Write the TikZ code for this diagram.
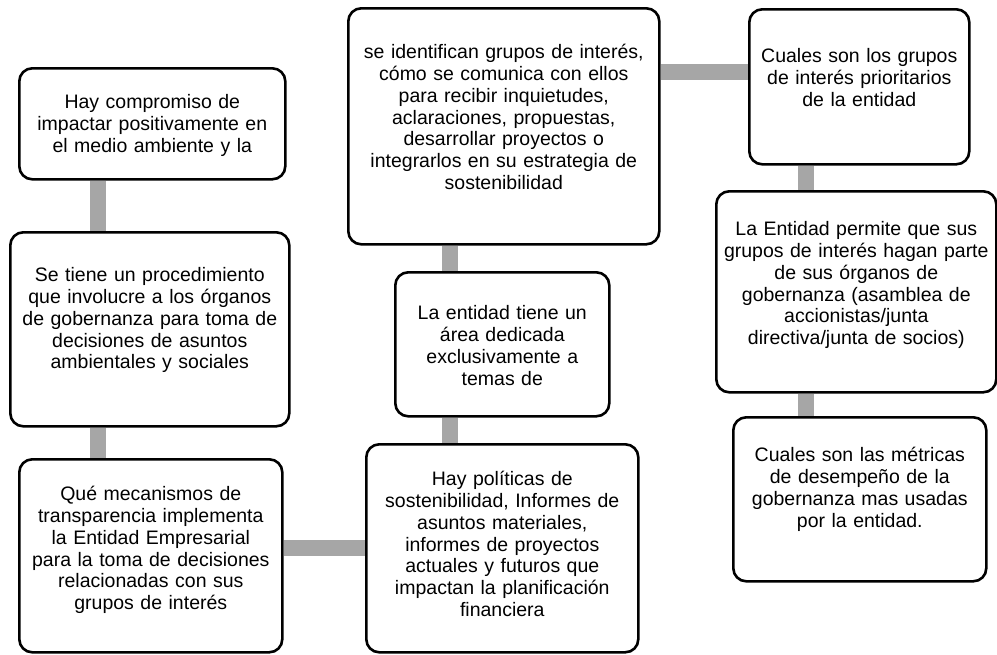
\documentclass[tikz,border=0pt]{standalone}
\usepackage{fontspec}
\setmainfont{Liberation Sans}
\usetikzlibrary{positioning,calc,backgrounds}
\definecolor{linkgray}{HTML}{A6A6A6}

\begin{document}
\begin{tikzpicture}[x=1pt, y=-1pt,
  qbox/.style={rectangle, draw, line width=2.6pt, fill=white, rounded corners=13pt, align=center, inner xsep=4pt, inner ysep=0pt, anchor=north west, font=\fontsize{19.5}{21.9}\selectfont},
  link/.style={line width=16pt, linkgray}
]
  \useasboundingbox (0,0) rectangle (997,654);

  % left column
  \node[qbox, text width=258pt, text height=40pt, text depth=71pt] (hay) at (18,67) {Hay compromiso de\\impactar positivamente en\\el medio ambiente y la};
  \node[qbox, text width=271pt, text height=49pt, text depth=145pt] (tiene) at (9,231) {Se tiene un procedimiento\\que involucre a los órganos\\de gobernanza para toma de\\decisiones de asuntos\\ambientales y sociales};
  \node[qbox, text width=255pt, text height=41pt, text depth=152pt] (que) at (18,458) {Qué mecanismos de\\transparencia implementa\\la Entidad Empresarial\\para la toma de decisiones\\relacionadas con sus\\grupos de interés};

  % middle column
  \node[qbox, text width=303pt, text height=50pt, text depth=186pt] (ident) at (347,7) {se identifican grupos de interés,\\cómo se comunica con ellos\\para recibir inquietudes,\\aclaraciones, propuestas,\\desarrollar proyectos o\\integrarlos en su estrategia de\\sostenibilidad};
  \node[qbox, text width=206pt, text height=47pt, text depth=97pt] (area) at (394,271) {La entidad tiene un\\área dedicada\\exclusivamente a\\temas de};
  \node[qbox, text width=264pt, text height=41pt, text depth=167pt] (pol) at (365,443) {Hay políticas de\\sostenibilidad, Informes de\\asuntos materiales,\\informes de proyectos\\actuales y futuros que\\impactan la planificación\\financiera};

  % right column
  \node[qbox, text width=212pt, text height=53pt, text depth=102pt] (cuales) at (748,8) {Cuales son los grupos\\de interés prioritarios\\de la entidad};
  \node[qbox, text width=272pt, text height=44pt, text depth=157pt] (permite) at (715,190) {La Entidad permite que sus\\grupos de interés hagan parte\\de sus órganos de\\gobernanza (asamblea de\\accionistas/junta\\directiva/junta de socios)};
  \node[qbox, text width=245pt, text height=44pt, text depth=120pt] (metricas) at (732,416) {Cuales son las métricas\\de desempeño de la\\gobernanza mas usadas\\por la entidad.};

  % connectors
  \coordinate (ht) at ([xshift=79.5pt]hay.south west);
  \coordinate (tq) at ([xshift=88.5pt]tiene.south west);
  \coordinate (ia) at ([xshift=103pt]ident.south west);
  \coordinate (ap) at ([xshift=56pt]area.south west);
  \coordinate (ic) at ([yshift=-64pt]cuales.north west);
  \coordinate (cp) at ([xshift=58pt]cuales.south west);
  \coordinate (pm) at ([xshift=91pt]permite.south west);
  \begin{scope}[on background layer]
    \draw[link] (ht) -- (ht |- tiene.north);
    \draw[link] (tq) -- (tq |- que.north);
    \draw[link] (que.east |- pol.west) -- (pol.west);
    \draw[link] (ia) -- (ia |- area.north);
    \draw[link] (ap) -- (ap |- pol.north);
    \draw[link] (ident.east |- ic) -- (ic);
    \draw[link] (cp) -- (cp |- permite.north);
    \draw[link] (pm) -- (pm |- metricas.north);
  \end{scope}
\end{tikzpicture}
\end{document}
